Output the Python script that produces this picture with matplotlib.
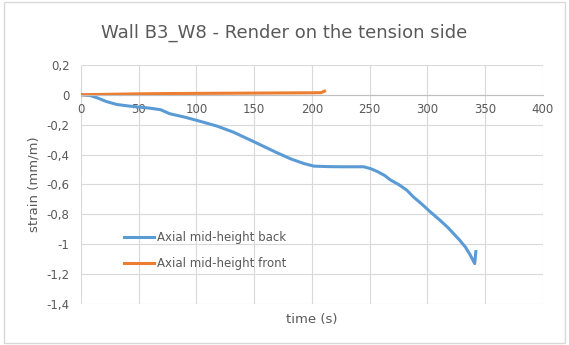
import matplotlib.pyplot as plt
import numpy as np

# strain readings over time, mid-height gauges
t_back = [0, 8, 14, 22, 31, 41, 51, 60, 69, 77, 90, 103, 118, 132, 150, 169, 182, 193,
          202, 215, 225, 235, 245, 251, 257, 263, 268, 275, 282, 288, 295, 302, 311,
          318, 324, 328, 333, 337, 341, 342]
y_back = [0, -0.005, -0.02, -0.045, -0.065, -0.075, -0.083, -0.09, -0.10, -0.127,
          -0.15, -0.177, -0.21, -0.25, -0.315, -0.385, -0.43, -0.46, -0.478, -0.481,
          -0.482, -0.482, -0.482, -0.495, -0.515, -0.54, -0.57, -0.60, -0.637, -0.684,
          -0.73, -0.78, -0.84, -0.89, -0.94, -0.973, -1.02, -1.07, -1.13, -1.05]

t_front = [0, 25, 50, 75, 100, 125, 150, 175, 200, 208, 211]
y_front = [0, 0.003, 0.006, 0.008, 0.009, 0.01, 0.011, 0.012, 0.013, 0.014, 0.024]

xticks = [0, 50, 100, 150, 200, 250, 300, 350, 400]
yticks = [0.2, 0, -0.2, -0.4, -0.6, -0.8, -1, -1.2, -1.4]
ytick_labels = ["0,2", "0", "-0,2", "-0,4", "-0,6", "-0,8", "-1", "-1,2", "-1,4"]

grey = "#595959"

fig = plt.figure(figsize=(5.69, 3.45), dpi=100)
ax = fig.add_axes([0.142, 0.119, 0.812, 0.693])

ax.plot(t_back, y_back, color="#5b9bd5", lw=2.2, label="Axial mid-height back")
ax.plot(t_front, y_front, color="#ed7d31", lw=2.2, label="Axial mid-height front")

ax.set_xlim(0, 400)
ax.set_ylim(-1.4, 0.2)
ax.set_xticks(xticks)
ax.set_yticks(yticks)
ax.set_yticklabels(ytick_labels)
ax.grid(True, color="#d9d9d9", lw=0.8)
ax.set_axisbelow(True)

for s in ["top", "right", "left"]:
    ax.spines[s].set_visible(False)
ax.spines["bottom"].set_position(("data", 0))
ax.spines["bottom"].set_color("#bfbfbf")
ax.tick_params(length=0, colors=grey, labelsize=8.5)
ax.tick_params(axis="x", pad=6)
ax.tick_params(axis="y", pad=8)

ax.set_ylabel("strain (mm/m)", color=grey, fontsize=9.5)
ax.yaxis.set_label_coords(-0.088, 0.5)
ax.text(0.5, -0.038, "time (s)", transform=ax.transAxes, ha="center", va="top",
        color=grey, fontsize=9.5)

fig.text(0.5, 0.905, "Wall B3_W8 - Render on the tension side", ha="center",
         va="center", color=grey, fontsize=13)

leg = ax.legend(loc="upper left", bbox_to_anchor=(0.07, 0.35), frameon=False,
                fontsize=8.5, handlelength=2.6, handletextpad=0.25, labelspacing=1.1)
for txt in leg.get_texts():
    txt.set_color(grey)

# chart border
fig.patches.append(plt.Rectangle((0.007, 0.005), 0.986, 0.99, transform=fig.transFigure,
                                 fill=False, edgecolor="#d9d9d9", lw=1))

fig.savefig("out.png", dpi=100)
